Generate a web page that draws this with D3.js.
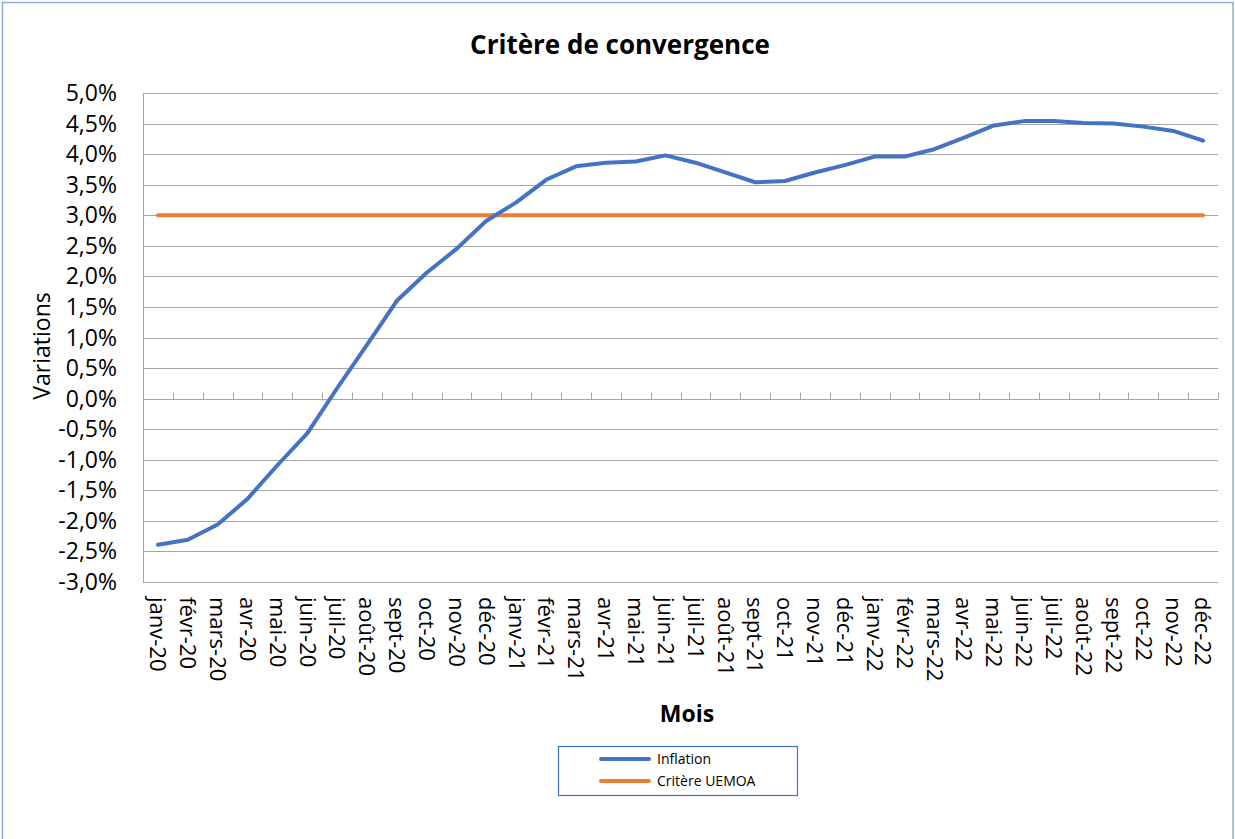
<!DOCTYPE html>
<html>
<head>
<meta charset="utf-8">
<script src="https://cdn.jsdelivr.net/npm/d3@7"></script>
<style>
  body { margin: 0; background: #fff; }
  text { font-family: "Open Sans", "Noto Sans", sans-serif; fill: #000; }
</style>
</head>
<body>
<div id="chart"></div>
<script>
// months (x categories)
const months = ["janv-20","févr-20","mars-20","avr-20","mai-20","juin-20","juil-20","août-20","sept-20","oct-20","nov-20","déc-20",
  "janv-21","févr-21","mars-21","avr-21","mai-21","juin-21","juil-21","août-21","sept-21","oct-21","nov-21","déc-21",
  "janv-22","févr-22","mars-22","avr-22","mai-22","juin-22","juil-22","août-22","sept-22","oct-22","nov-22","déc-22"];

// inflation in %
const inflation = [-2.39,-2.31,-2.06,-1.64,-1.09,-0.57,0.17,0.88,1.60,2.06,2.45,2.91,
  3.21,3.58,3.80,3.86,3.88,3.98,3.86,3.70,3.54,3.56,3.70,3.82,
  3.96,3.96,4.08,4.27,4.47,4.54,4.54,4.51,4.50,4.45,4.38,4.22];

// convergence criterion
const critere = months.map(() => 3.0);

const yTicks = [-3,-2.5,-2,-1.5,-1,-0.5,0,0.5,1,1.5,2,2.5,3,3.5,4,4.5,5];

const W = 1235, H = 839;
const plotL = 143, plotR = 1218, plotT = 93, plotB = 582;

const svg = d3.select("#chart").append("svg")
  .attr("width", W).attr("height", H);

// outer frame
svg.append("rect")
  .attr("x", 2.5).attr("y", 2.5)
  .attr("width", W - 4.5).attr("height", H + 10)
  .attr("fill", "none").attr("stroke", "#8eaadb").attr("stroke-width", 1.5);

const x = d3.scaleBand().domain(months).range([plotL, plotR]);
const y = d3.scaleLinear().domain([-3, 5]).range([plotB, plotT]);
const fmt = v => d3.format(".1f")(v).replace(".", ",").replace("−", "-") + "%";

// gridlines
svg.append("g")
  .selectAll("line")
  .data(yTicks)
  .join("line")
  .attr("x1", plotL).attr("x2", plotR)
  .attr("y1", d => Math.round(y(d)) + 0.5).attr("y2", d => Math.round(y(d)) + 0.5)
  .attr("stroke", "#a6a6a6").attr("stroke-width", 1);

// left axis line
svg.append("line")
  .attr("x1", plotL + 0.5).attr("x2", plotL + 0.5)
  .attr("y1", plotT).attr("y2", plotB)
  .attr("stroke", "#a6a6a6");

// y labels
svg.append("g")
  .selectAll("text")
  .data(yTicks)
  .join("text")
  .attr("x", 117).attr("y", d => y(d))
  .attr("dy", "0.35em")
  .attr("text-anchor", "end")
  .style("font-size", "23px")
  .text(fmt);

// zero axis with category ticks pointing up
const xAxis = svg.append("g")
  .attr("transform", `translate(0,${Math.round(y(0)) + 0.5})`);
xAxis.append("line")
  .attr("x1", plotL).attr("x2", plotR)
  .attr("stroke", "#a6a6a6");
xAxis.selectAll("line.tk")
  .data(months)
  .join("line")
  .attr("class", "tk")
  .attr("x1", d => Math.round(x(d) + x.bandwidth()) + 0.5)
  .attr("x2", d => Math.round(x(d) + x.bandwidth()) + 0.5)
  .attr("y1", 0).attr("y2", -7)
  .attr("stroke", "#a6a6a6");

// month labels at bottom, rotated
svg.append("g")
  .selectAll("text")
  .data(months)
  .join("text")
  .attr("transform", d => `translate(${x(d) + x.bandwidth() / 2},597) rotate(90)`)
  .attr("dy", "0.35em")
  .attr("text-anchor", "start")
  .style("font-size", "22px")
  .text(d => d);

const line = d3.line()
  .x((d, i) => x(months[i]) + x.bandwidth() / 2)
  .y(d => y(d));

svg.append("path")
  .datum(critere)
  .attr("d", line)
  .attr("fill", "none")
  .attr("stroke", "#ed7d31").attr("stroke-width", 4)
  .attr("stroke-linecap", "round");

svg.append("path")
  .datum(inflation)
  .attr("d", line)
  .attr("fill", "none")
  .attr("stroke", "#4472c4").attr("stroke-width", 4)
  .attr("stroke-linecap", "round").attr("stroke-linejoin", "round");

// titles
svg.append("text")
  .attr("x", 620).attr("y", 54)
  .attr("text-anchor", "middle")
  .style("font-size", "26px").style("font-weight", "bold")
  .text("Critère de convergence");

svg.append("text")
  .attr("transform", "translate(50,346) rotate(-90)")
  .attr("text-anchor", "middle")
  .style("font-size", "23px")
  .text("Variations");

svg.append("text")
  .attr("x", 687).attr("y", 722)
  .attr("text-anchor", "middle")
  .style("font-size", "23px").style("font-weight", "bold")
  .text("Mois");

// legend
const legend = svg.append("g");
legend.append("rect")
  .attr("x", 558.5).attr("y", 746.5)
  .attr("width", 239).attr("height", 49)
  .attr("fill", "#fff").attr("stroke", "#4472c4").attr("stroke-width", 1.2);

const legendItems = [
  { name: "Inflation", color: "#4472c4" },
  { name: "Critère UEMOA", color: "#ed7d31" }
];
const li = legend.selectAll("g")
  .data(legendItems)
  .join("g")
  .attr("transform", (d, i) => `translate(0,${759 + i * 22})`);
li.append("line")
  .attr("x1", 601).attr("x2", 649)
  .attr("stroke", d => d.color).attr("stroke-width", 4)
  .attr("stroke-linecap", "round");
li.append("text")
  .attr("x", 657).attr("dy", "0.35em")
  .style("font-size", "14px")
  .text(d => d.name);
</script>
</body>
</html>
